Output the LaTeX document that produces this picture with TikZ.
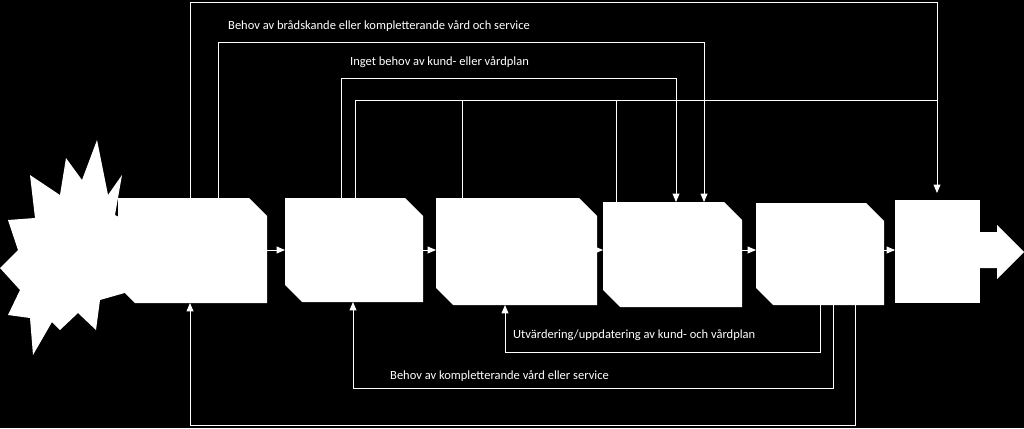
\documentclass[tikz,border=0pt]{standalone}
\usepackage{fontspec}
\setmainfont{Carlito}
\usetikzlibrary{
  arrows,
  calc
}
\tikzset{
  flow/.style={draw=white, line width=0.9pt},
  arr/.style={flow, -triangle 45},
  lbl/.style={text=white, font=\fontsize{12.5}{14}\selectfont, anchor=west, inner sep=0pt}
}
% box with two clipped corners
\newcommand{\stepbox}[5]{%
  \fill[white] (#2,#3) -- (#4-18,#3) -- (#4,#3+18) -- (#4,#5) -- (#2+17,#5) -- (#2,#5-17) -- cycle;
  \coordinate (#1) at ({(#2+#4)/2},{(#3+#5)/2});
  \coordinate (#1w) at (#2,250);
  \coordinate (#1e) at (#4,250);
}

\begin{document}
\begin{tikzpicture}[x=1pt, y=-1pt]
  \fill[black] (0,0) rectangle (1024,428);
  \useasboundingbox (0,0) rectangle (1024,428);

  % star
  \fill[white] (97,140) -- (108,195) -- (122,175) -- (115,215) -- (140,228)
     -- (118,250) -- (135,290) -- (100,300) -- (96,330) -- (78,313) -- (60,330)
     -- (52,322) -- (33,355) -- (30,318) -- (8,315) -- (20,290) -- (0,268)
     -- (18,250) -- (8,220) -- (35,218) -- (30,175) -- (60,195) -- (66,158)
     -- (82,180) -- cycle;

  \stepbox{b1}{118}{198}{267}{303}
  \stepbox{b2}{285}{198}{423}{302}
  \stepbox{b3}{436}{198}{597}{305}
  \stepbox{b4}{603}{202}{742}{307}
  \stepbox{b5}{756}{203}{884}{305}
  \fill[white] (895,200) rectangle (980,303);
  \coordinate (b6w) at (895,250);
  \fill[white] (980,232) -- (997,232) -- (997,225) -- (1024,252) -- (997,279)
     -- (997,268) -- (980,268) -- cycle;

  \draw[arr] (b1e) -- (b2w);
  \draw[arr] (b2e) -- (b3w);
  \draw[arr] (b3e) -- (b4w);
  \draw[arr] (b4e) -- (b5w);
  \draw[arr] (b5e) -- (b6w);

  % feedback on top
  \draw[arr] (190,198) |- (937,2) -- (937,193);
  \draw[arr] (218,198) |- (704,42) -- (704,202);
  \draw[arr] (341,198) |- (676,78) -- (676,202);
  \draw[flow] (355,198) |- (937,100);
  \draw[flow] (462,198) -- (462,100);
  \draw[flow] (616,202) -- (616,100);
  \node[lbl] (t1) at (228,26) {Behov av brådskande eller kompletterande vård och service};
  \node[lbl] (t2) at (350,62) {Inget behov av kund- eller vårdplan};

  % feedback below
  \draw[arr] (820,305) |- (505,352) -- (505,305);
  \draw[arr] (833,305) |- (353,388) -- (353,302);
  \draw[arr] (855,305) |- (190,425) -- (190,303);
  \node[lbl] (t3) at (513,335) {Utvärdering/uppdatering av kund- och vårdplan};
  \node[lbl] (t4) at (390,376) {Behov av kompletterande vård eller service};
\end{tikzpicture}
\end{document}
